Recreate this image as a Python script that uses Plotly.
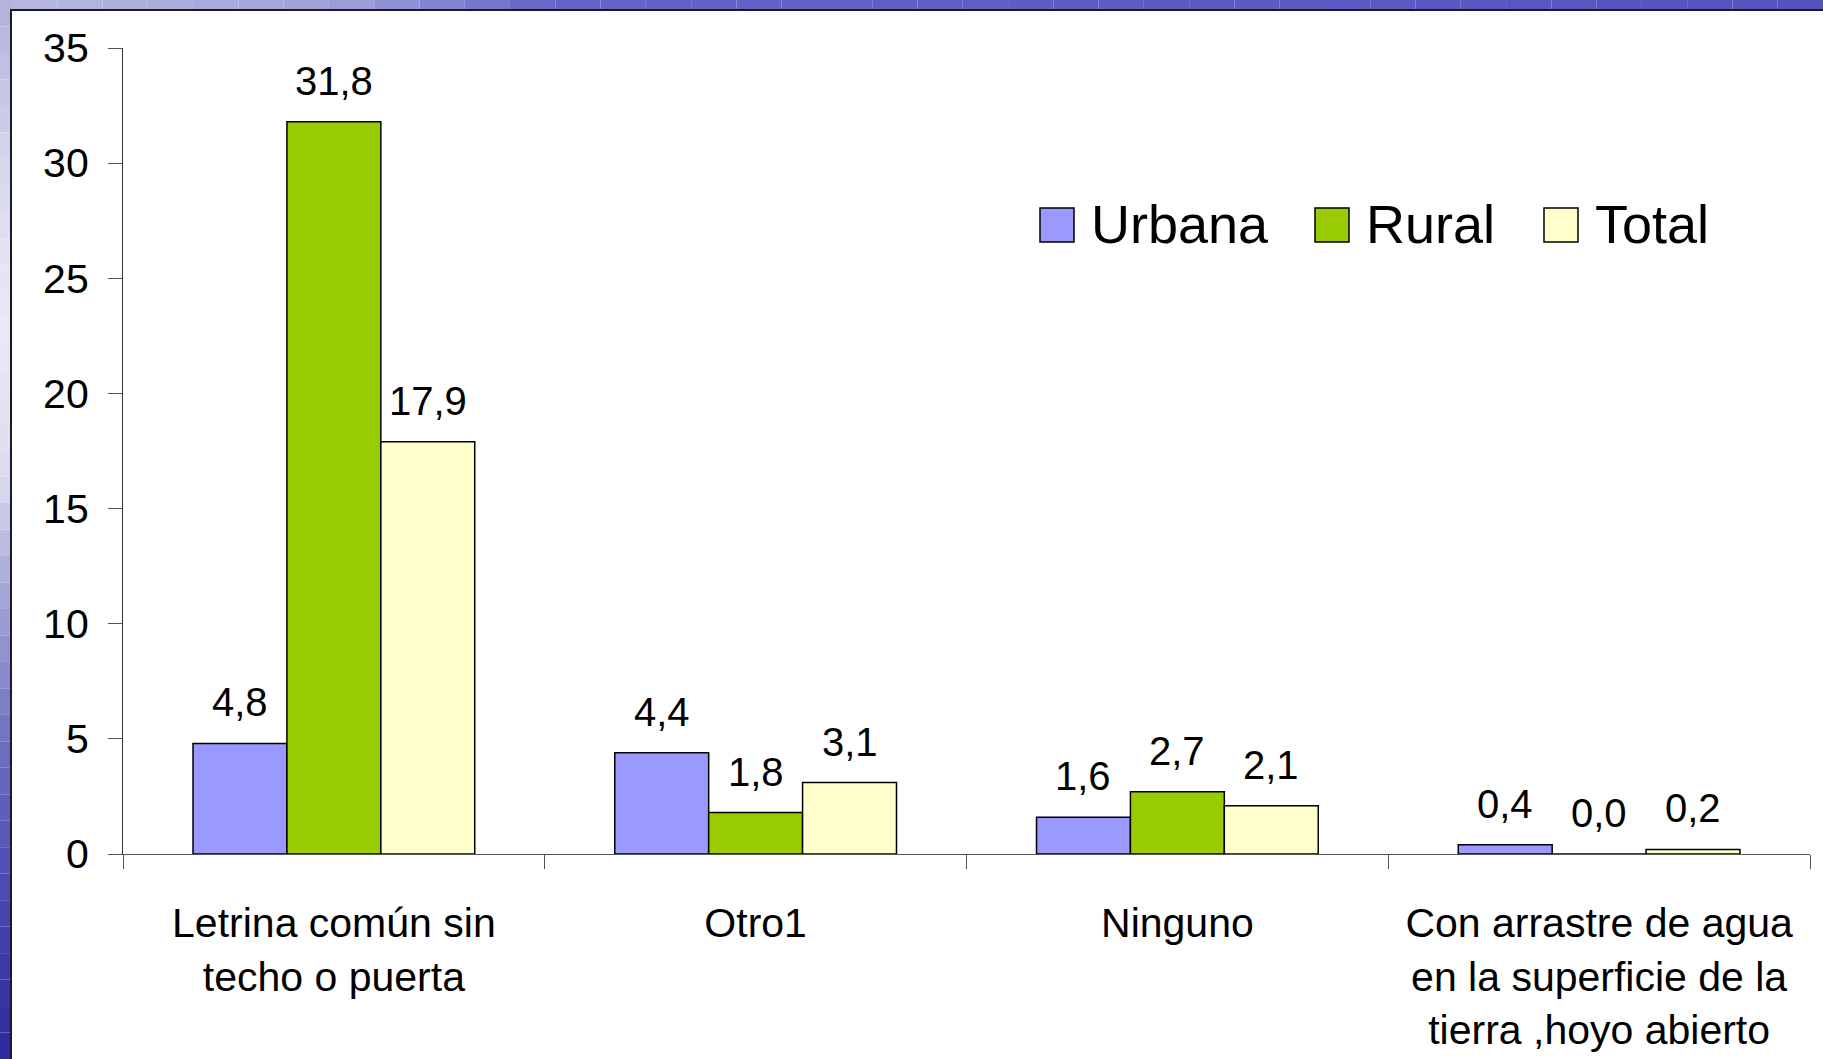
import plotly.graph_objects as go

categories = ["Letrina común sin<br>techo o puerta", "Otro1", "Ninguno",
              "Con arrastre de agua<br>en la superficie de la<br>tierra ,hoyo abierto"]
series_names = ["Urbana", "Rural", "Total"]
urbana = [4.8, 4.4, 1.6, 0.4]
rural = [31.8, 1.8, 2.7, 0.0]
total = [17.9, 3.1, 2.1, 0.2]
series_values = [urbana, rural, total]
colors = ["#9999FF", "#99CC00", "#FFFFCC"]
y_ticks = [0, 5, 10, 15, 20, 25, 30, 35]

W, H = 1823, 1059
L, R, T, B = 123, 13, 48, 205
PW, PH = W - L - R, H - T - B

def px(x):
    return (x - L) / PW

def py(y):
    return (H - B - y) / PH

FONT = "Liberation Sans, Arial, sans-serif"

fig = go.Figure()
for name, vals, col in zip(series_names, series_values, colors):
    fig.add_trace(go.Bar(
        x=categories, y=vals, name=name, marker_color=col,
        marker_line_color="#000000", marker_line_width=1.5,
        showlegend=False,
    ))

shapes = []
left_stops = [(0.0, (176, 176, 220)), (0.15, (214, 214, 236)), (0.3, (234, 234, 246)),
              (0.45, (220, 220, 238)), (0.55, (170, 170, 218)), (0.7, (112, 112, 192)),
              (0.85, (72, 72, 176)), (1.0, (42, 42, 156))]

def interp(stops, f):
    for (f0, c0), (f1, c1) in zip(stops[:-1], stops[1:]):
        if f0 <= f <= f1:
            t = (f - f0) / (f1 - f0) if f1 > f0 else 0
            return "rgb(%d,%d,%d)" % tuple(round(a + (b - a) * t) for a, b in zip(c0, c1))
    return "rgb(%d,%d,%d)" % stops[-1][1]

N = 40
for i in range(N):
    y0 = H * i / N
    y1 = H * (i + 1) / N
    shapes.append(dict(type="rect", xref="paper", yref="paper", layer="below",
                       x0=px(0), x1=px(12), y0=py(y0), y1=py(y1),
                       fillcolor=interp(left_stops, (i + 0.5) / N), line_width=0))
top_stops = [(0.0, (184, 184, 224)), (0.18, (160, 160, 218)), (0.3, (100, 100, 200)),
             (0.6, (92, 92, 196)), (1.0, (84, 84, 192))]
for i in range(N):
    x0 = 12 + (W - 12) * i / N
    x1 = 12 + (W - 12) * (i + 1) / N
    shapes.append(dict(type="rect", xref="paper", yref="paper", layer="below",
                       x0=px(x0), x1=px(x1), y0=py(0), y1=py(11),
                       fillcolor=interp(top_stops, (i + 0.5) / N), line_width=0))
shapes.append(dict(type="rect", xref="paper", yref="paper", layer="below",
                   x0=px(11), x1=px(W + 10), y0=py(10), y1=py(H + 10),
                   fillcolor="white", line=dict(color="#1a1a2a", width=2)))

annotations = []
offsets = [-94, 0, 94]
for vals, off in zip(series_values, offsets):
    for c, v in zip(categories, vals):
        annotations.append(dict(x=c, y=v, xref="x", yref="y", xshift=off, yshift=17,
                                text=f"{v:.1f}".replace(".", ","), showarrow=False,
                                yanchor="bottom", xanchor="center",
                                font=dict(family=FONT, size=40, color="black")))

leg_sq = [1040, 1315, 1544]
for name, col, sx in zip(series_names, colors, leg_sq):
    shapes.append(dict(type="rect", xref="paper", yref="paper",
                       x0=px(sx), x1=px(sx + 34), y0=py(208), y1=py(242),
                       fillcolor=col, line=dict(color="#000000", width=1.5)))
    annotations.append(dict(x=px(sx + 49), y=py(224), xref="paper", yref="paper",
                            text=name, showarrow=False, xanchor="left", yanchor="middle",
                            font=dict(family=FONT, size=54, color="black")))

fig.update_layout(
    width=W, height=H,
    margin=dict(l=L, r=R, t=T, b=B, pad=0, autoexpand=False),
    paper_bgcolor="white", plot_bgcolor="rgba(0,0,0,0)",
    barmode="group", bargap=0.332, bargroupgap=0,
    separators=",.",
    shapes=shapes, annotations=annotations,
    showlegend=False,
    font=dict(family=FONT, color="black"),
    xaxis=dict(
        type="category", range=[-0.5, 3.5], tickson="boundaries",
        ticks="outside", ticklen=14, tickcolor="#555555", tickwidth=1.2,
        showline=True, linecolor="#555555", linewidth=1.2,
        showgrid=False, zeroline=False, automargin=False,
        tickfont=dict(family=FONT, size=41, color="black"),
        ticklabelstandoff=33,
    ),
    yaxis=dict(
        range=[0, 35], tickvals=y_ticks, ticks="outside", ticklen=14,
        tickcolor="#555555", tickwidth=1.2,
        showline=True, linecolor="#333333", linewidth=1.2,
        showgrid=False, zeroline=False, automargin=False,
        tickfont=dict(family=FONT, size=41, color="black"),
        ticklabelstandoff=11,
    ),
)

fig.write_html("out.html", config={"displayModeBar": False},
               post_script="document.body.style.margin='0';document.body.style.overflow='hidden';")
